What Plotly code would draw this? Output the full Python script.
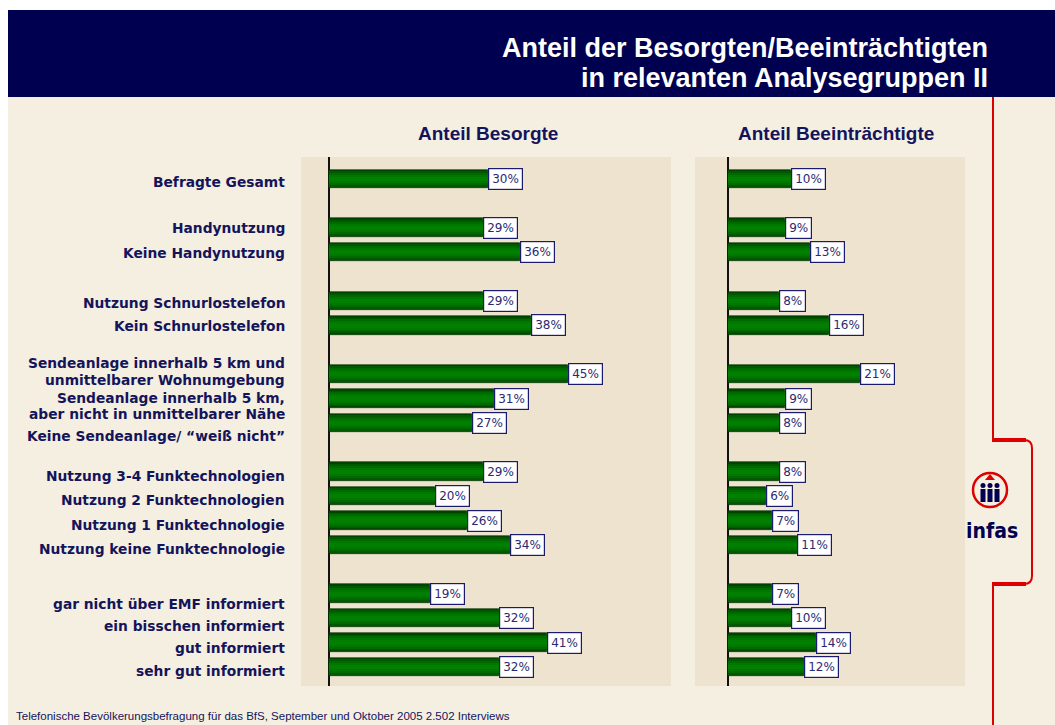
import plotly.graph_objects as go

# ---------------- data ----------------
groups = [
    ["Befragte Gesamt"],
    ["Handynutzung", "Keine Handynutzung"],
    ["Nutzung Schnurlostelefon", "Kein Schnurlostelefon"],
    ["Sendeanlage innerhalb 5 km und\nunmittelbarer Wohnumgebung",
     "Sendeanlage innerhalb 5 km,\naber nicht in unmittelbarer Nähe",
     "Keine Sendeanlage/ \u201cweiß nicht\u201d"],
    ["Nutzung 3-4 Funktechnologien", "Nutzung 2 Funktechnologien",
     "Nutzung 1 Funktechnologie", "Nutzung keine Funktechnologie"],
    ["gar nicht über EMF informiert", "ein bisschen informiert",
     "gut informiert", "sehr gut informiert"],
]
besorgte = [30, 29, 36, 29, 38, 45, 31, 27, 29, 20, 26, 34, 19, 32, 41, 32]
beeintraechtigte = [10, 9, 13, 8, 16, 21, 9, 8, 8, 6, 7, 11, 7, 10, 14, 12]

title_lines = ["Anteil der Besorgten/Beeinträchtigten", "in relevanten Analysegruppen II"]
panel_titles = ["Anteil Besorgte", "Anteil Beeinträchtigte"]
footer = "Telefonische Bevölkerungsbefragung für das BfS, September und Oktober 2005 2.502 Interviews"

# ---------------- layout helpers ----------------
W, H = 1055, 725
def px(x): return x / W
def py(y): return 1 - y / H

NAVY = "#000050"
TEXT = "#14145a"
BEIGE = "#f5efe2"
PANEL = "#ede3cf"
RED = "#dd0000"

# row positions: one blank row between groups
categories, rows = [], []
r = 0
for gi, g in enumerate(groups):
    for c in g:
        categories.append(c)
        rows.append(r)
        r += 1
    r += 1

# vertical offset (px, downward) of each category label vs. its bar
label_shift = [3, 0, 1, 2, 1, -2.5, 7.5, 13, 4, 4, 4, 4, 10, 8, 5, 4]
LINE_GAP = 16.5

fig = go.Figure()

layers = [(0.76, "#004600"), (0.64, "#005800"), (0.50, "#006a00"), (0.34, "#007800"), (0.18, "#007f00")]
for vals, xa, ya in [(besorgte, "x", "y"), (beeintraechtigte, "x2", "y2")]:
    for i, (w, col) in enumerate(layers):
        fig.add_trace(go.Bar(
            x=vals, y=rows, orientation="h", width=w,
            marker=dict(color=col, line=dict(width=0.6 if i == 0 else 0, color="#003000")),
            xaxis=xa, yaxis=ya, showlegend=False, hoverinfo="skip"))

annotations = []
# value labels
for vals, xr, yr in [(besorgte, "x", "y"), (beeintraechtigte, "x2", "y2")]:
    for v, rr in zip(vals, rows):
        annotations.append(dict(
            x=v, y=rr, xref=xr, yref=yr, xanchor="left", yanchor="middle",
            text=f"{v}%", showarrow=False, bgcolor="white",
            bordercolor="#1a1a6e", borderwidth=1.2, borderpad=3,
            font=dict(family="DejaVu Sans", size=12, color="#2a2a70")))

# category labels
for c, rr, sh in zip(categories, rows, label_shift):
    lines = c.split("\n")
    n = len(lines)
    for li, line in enumerate(lines):
        off = sh + (li - (n - 1) / 2) * LINE_GAP
        annotations.append(dict(
            x=px(287), y=rr, xref="paper", yref="y", xanchor="right", yanchor="middle",
            yshift=-off, text=line, showarrow=False,
            font=dict(family="DejaVu Sans", size=13.8, color=TEXT, weight="bold")))

# panel titles
for t, cx in zip(panel_titles, [488, 836]):
    annotations.append(dict(
        x=px(cx), y=py(133), xref="paper", yref="paper", xanchor="center", yanchor="middle",
        text=t, showarrow=False,
        font=dict(family="Liberation Sans, Arial", size=19, color=TEXT, weight="bold")))

# main title
for t, cy in zip(title_lines, [48, 78]):
    annotations.append(dict(
        x=px(990), y=py(cy), xref="paper", yref="paper", xanchor="right", yanchor="middle",
        text=t, showarrow=False,
        font=dict(family="Liberation Sans, Arial", size=27, color="white", weight="bold")))

# footer
annotations.append(dict(
    x=px(14), y=py(716), xref="paper", yref="paper", xanchor="left", yanchor="middle",
    text=footer, showarrow=False,
    font=dict(family="Liberation Sans, Arial", size=11.5, color=TEXT)))

# logo text
annotations.append(dict(
    x=px(992), y=py(531), xref="paper", yref="paper", xanchor="center", yanchor="middle",
    text="infas", showarrow=False,
    font=dict(family="Liberation Sans Narrow, DejaVu Sans Condensed, Liberation Sans", size=21,
              color=NAVY, weight="bold")))

shapes = [
    # beige page and navy band
    dict(type="rect", xref="paper", yref="paper", x0=px(8), x1=px(W), y0=py(H), y1=py(97),
         fillcolor=BEIGE, line_width=0, layer="below"),
    dict(type="rect", xref="paper", yref="paper", x0=px(8), x1=px(W), y0=py(97), y1=py(10),
         fillcolor=NAVY, line_width=0, layer="below"),
    # panels
    dict(type="rect", xref="x domain", yref="y domain", x0=0, x1=1, y0=0, y1=1,
         fillcolor=PANEL, line_width=0, layer="below"),
    dict(type="rect", xref="x2 domain", yref="y2 domain", x0=0, x1=1, y0=0, y1=1,
         fillcolor=PANEL, line_width=0, layer="below"),
    # red bracket
    dict(type="line", xref="paper", yref="paper", x0=px(993), x1=px(993), y0=py(97), y1=py(440),
         line=dict(color=RED, width=2)),
    dict(type="line", xref="paper", yref="paper", x0=px(993), x1=px(993), y0=py(584), y1=py(H),
         line=dict(color=RED, width=2)),
    dict(type="line", xref="paper", yref="paper", x0=px(992), x1=px(1026), y0=py(440), y1=py(440),
         line=dict(color=RED, width=4)),
    dict(type="line", xref="paper", yref="paper", x0=px(992), x1=px(1026), y0=py(584), y1=py(584),
         line=dict(color=RED, width=4)),
    dict(type="path", xref="paper", yref="paper",
         path=(f"M {px(1024)},{py(440)} Q {px(1032)},{py(440)} {px(1032)},{py(448)} "
               f"L {px(1032)},{py(576)} Q {px(1032)},{py(584)} {px(1024)},{py(584)}"),
         line=dict(color=RED, width=2)),
    # logo circle
    dict(type="circle", xref="paper", yref="paper", x0=px(973), x1=px(1007), y0=py(507), y1=py(473),
         line=dict(color=RED, width=2.5)),
]
# logo figures (three people) and arrow
for cx in [983, 990, 997]:
    shapes.append(dict(type="rect", xref="paper", yref="paper", x0=px(cx - 2.5), x1=px(cx + 2.5),
                       y0=py(502), y1=py(489), fillcolor=NAVY, line_width=0))
    shapes.append(dict(type="circle", xref="paper", yref="paper", x0=px(cx - 2.5), x1=px(cx + 2.5),
                       y0=py(488), y1=py(483), fillcolor=NAVY, line_width=0))
shapes.append(dict(type="path", xref="paper", yref="paper",
                   path=f"M {px(985)},{py(480)} L {px(990)},{py(474)} L {px(995)},{py(480)} Z",
                   fillcolor=RED, line_width=0))

yrange = [20.78, -0.9]
fig.update_layout(
    width=W, height=H, margin=dict(l=0, r=0, t=0, b=0),
    paper_bgcolor="white", plot_bgcolor="rgba(0,0,0,0)",
    barmode="overlay", bargap=0,
    xaxis=dict(domain=[px(301), px(671)], range=[-28 / 5.31, 342 / 5.31], anchor="y",
               showgrid=False, showticklabels=False, ticks="",
               zeroline=True, zerolinecolor="#111111", zerolinewidth=1.5, fixedrange=True),
    xaxis2=dict(domain=[px(695), px(965)], range=[-33.3 / 6.28, 236.7 / 6.28], anchor="y2",
                showgrid=False, showticklabels=False, ticks="",
                zeroline=True, zerolinecolor="#111111", zerolinewidth=1.5, fixedrange=True),
    yaxis=dict(domain=[py(686), py(157)], range=yrange, anchor="x",
               showgrid=False, showticklabels=False, zeroline=False, ticks="", fixedrange=True),
    yaxis2=dict(domain=[py(686), py(157)], range=yrange, anchor="x2",
                showgrid=False, showticklabels=False, zeroline=False, ticks="", fixedrange=True),
    annotations=annotations, shapes=shapes, showlegend=False,
)

fig.write_html("out.html", config={"displayModeBar": False},
               post_script="document.body.style.margin='0px';document.body.style.overflow='hidden';")
